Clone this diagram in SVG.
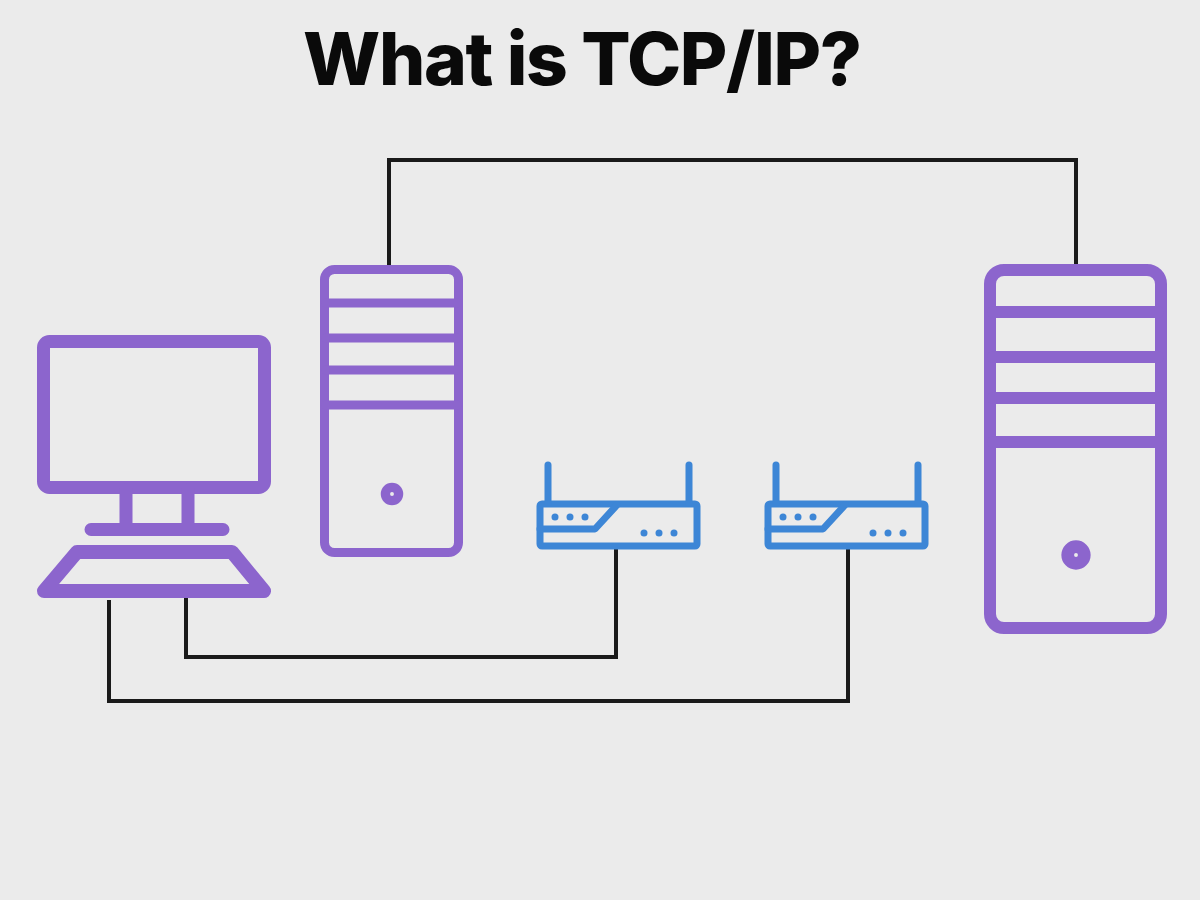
<svg xmlns="http://www.w3.org/2000/svg" width="1200" height="900" viewBox="0 0 1200 900">
<style>
.p{fill:none;stroke:#8c65cd;stroke-linejoin:round;stroke-linecap:round}
.b{fill:none;stroke:#3d86d6;stroke-linejoin:round;stroke-linecap:round;stroke-width:7}
.c{fill:none;stroke:#1a1a1a;stroke-width:4}
.d{fill:#3d86d6}
</style>
<rect width="1200" height="900" fill="#ebebeb"/>
<text x="303" y="85" textLength="559" lengthAdjust="spacing" font-family="Inter, 'Liberation Sans', sans-serif" font-weight="800" font-size="73" fill="#0a0a0a">What is TCP/IP?</text>
<g id="connectors">
<path class="c" d="M389 265V160H1076V265"/>
<path class="c" d="M186 598V657H616V548"/>
<path class="c" d="M109 600V701H848V548"/>
</g>
<g id="computer">
<rect class="p" stroke-width="13" x="43.5" y="341.5" width="221" height="146" rx="6"/>
<path class="p" stroke-width="13" d="M126 490V526M188 490V526M91 529.5H223"/>
<path class="p" stroke-width="14" d="M77 552H232L264 591H44Z"/>
</g>
<g id="server-small">
<rect class="p" stroke-width="9" x="324.500" y="269.500" width="134" height="283" rx="10"/>
<path class="p" stroke-width="9" d="M326 303H457M326 338H457M326 370H457M326 405H457"/>
<circle class="p" stroke-width="9.300" cx="392" cy="494" r="6.600"/>
</g>
<g id="router-1">
<rect class="b" x="540" y="504" width="157" height="42" rx="2"/>
<path class="b" d="M548 503V465M689 503V465M540 529H595L617 505"/>
<circle class="d" cx="555" cy="517" r="3.500"/><circle class="d" cx="570" cy="517" r="3.500"/><circle class="d" cx="585" cy="517" r="3.500"/>
<circle class="d" cx="644" cy="533" r="3.500"/><circle class="d" cx="659" cy="533" r="3.500"/><circle class="d" cx="674" cy="533" r="3.500"/>
</g>
<g id="router-2">
<rect class="b" x="768" y="504" width="157" height="42" rx="2"/>
<path class="b" d="M776 503V465M918 503V465M768 529H823L845 505"/>
<circle class="d" cx="783" cy="517" r="3.500"/><circle class="d" cx="798" cy="517" r="3.500"/><circle class="d" cx="813" cy="517" r="3.500"/>
<circle class="d" cx="873" cy="533" r="3.500"/><circle class="d" cx="888" cy="533" r="3.500"/><circle class="d" cx="903" cy="533" r="3.500"/>
</g>
<g id="server-large">
<rect class="p" stroke-width="12" x="990" y="270" width="171" height="358" rx="14"/>
<path class="p" stroke-width="12" d="M993 312H1158M993 357H1158M993 398H1158M993 442H1158"/>
<circle class="p" stroke-width="12.700" cx="1076" cy="555" r="8.300"/>
</g>
</svg>
